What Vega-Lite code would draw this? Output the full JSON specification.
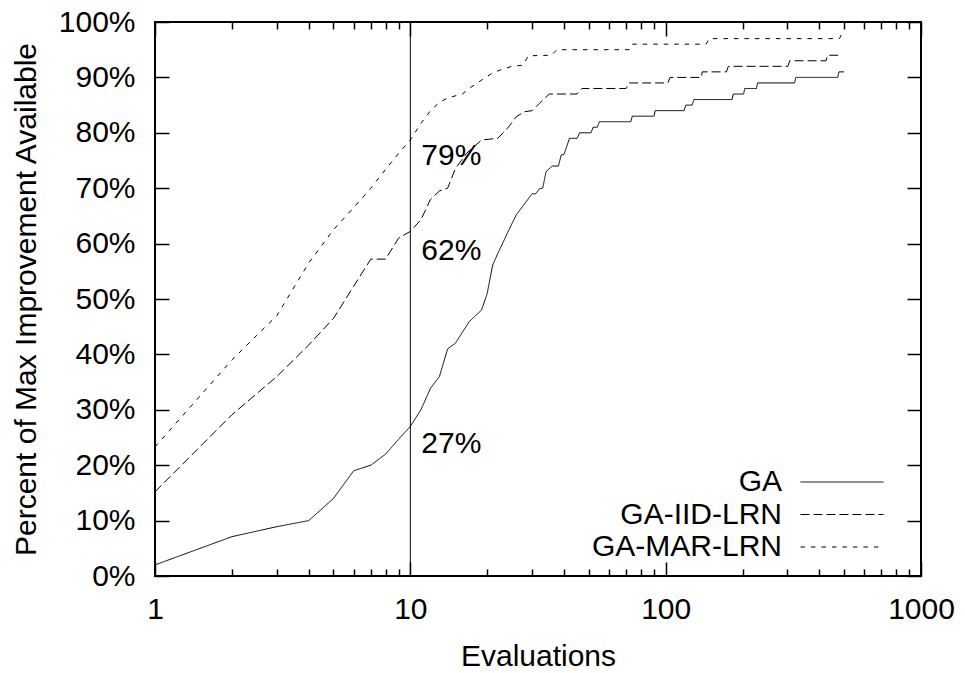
{
  "$schema": "https://vega.github.io/schema/vega-lite/v6.json",
  "autosize": {"type": "none"},
  "padding": {"left": 155, "top": 22, "right": 44, "bottom": 97},
  "width": 766,
  "height": 554,
  "background": "white",
  "config": {
    "view": {"stroke": "black", "strokeWidth": 2},
    "font": "Liberation Sans",
    "axis": {
      "domain": false,
      "grid": false,
      "labelFont": "Liberation Sans",
      "labelFontSize": 30,
      "labelColor": "black",
      "titleFont": "Liberation Sans",
      "titleFontSize": 30,
      "titleFontWeight": "normal",
      "titleColor": "black"
    },
    "legend": {
      "labelFont": "Liberation Sans",
      "labelFontSize": 30,
      "labelColor": "black"
    }
  },
  "resolve": {
    "scale": {"x": "shared", "y": "shared"},
    "axis": {"x": "independent", "y": "independent"}
  },
  "datasets": {
    "curves": [
      {"series": "GA", "x": 1, "y": 2},
      {"series": "GA", "x": 2, "y": 7.1},
      {"series": "GA", "x": 3, "y": 8.9},
      {"series": "GA", "x": 4, "y": 10},
      {"series": "GA", "x": 5, "y": 14},
      {"series": "GA", "x": 6, "y": 19},
      {"series": "GA", "x": 7, "y": 20},
      {"series": "GA", "x": 8, "y": 22},
      {"series": "GA", "x": 9, "y": 24.7},
      {"series": "GA", "x": 10, "y": 27},
      {"series": "GA", "x": 11, "y": 30},
      {"series": "GA", "x": 12, "y": 33.9},
      {"series": "GA", "x": 13, "y": 36},
      {"series": "GA", "x": 14, "y": 41},
      {"series": "GA", "x": 15, "y": 42},
      {"series": "GA", "x": 17, "y": 45.9},
      {"series": "GA", "x": 19, "y": 48},
      {"series": "GA", "x": 20, "y": 51},
      {"series": "GA", "x": 21, "y": 56.1},
      {"series": "GA", "x": 22, "y": 58.2},
      {"series": "GA", "x": 24, "y": 61.9},
      {"series": "GA", "x": 26, "y": 65.2},
      {"series": "GA", "x": 30, "y": 69},
      {"series": "GA", "x": 31, "y": 69},
      {"series": "GA", "x": 32, "y": 69.9},
      {"series": "GA", "x": 33, "y": 70},
      {"series": "GA", "x": 34, "y": 73},
      {"series": "GA", "x": 36, "y": 74},
      {"series": "GA", "x": 38, "y": 74},
      {"series": "GA", "x": 39, "y": 76},
      {"series": "GA", "x": 40, "y": 76.1},
      {"series": "GA", "x": 42, "y": 79},
      {"series": "GA", "x": 45, "y": 79},
      {"series": "GA", "x": 46, "y": 80},
      {"series": "GA", "x": 51, "y": 80},
      {"series": "GA", "x": 52, "y": 81},
      {"series": "GA", "x": 54, "y": 81},
      {"series": "GA", "x": 55, "y": 82},
      {"series": "GA", "x": 73, "y": 82},
      {"series": "GA", "x": 74, "y": 83},
      {"series": "GA", "x": 90, "y": 83},
      {"series": "GA", "x": 91, "y": 84},
      {"series": "GA", "x": 118, "y": 84},
      {"series": "GA", "x": 120, "y": 85},
      {"series": "GA", "x": 127, "y": 85},
      {"series": "GA", "x": 129, "y": 86},
      {"series": "GA", "x": 182, "y": 86},
      {"series": "GA", "x": 184, "y": 87},
      {"series": "GA", "x": 202, "y": 87},
      {"series": "GA", "x": 204, "y": 88},
      {"series": "GA", "x": 227, "y": 88},
      {"series": "GA", "x": 229, "y": 89},
      {"series": "GA", "x": 320, "y": 89},
      {"series": "GA", "x": 323, "y": 90},
      {"series": "GA", "x": 472, "y": 90},
      {"series": "GA", "x": 477, "y": 91},
      {"series": "GA", "x": 500, "y": 91},
      {"series": "GA-IID-LRN", "x": 1, "y": 15.2},
      {"series": "GA-IID-LRN", "x": 2, "y": 29.1},
      {"series": "GA-IID-LRN", "x": 3, "y": 36},
      {"series": "GA-IID-LRN", "x": 4, "y": 41.7},
      {"series": "GA-IID-LRN", "x": 5, "y": 46.5},
      {"series": "GA-IID-LRN", "x": 6, "y": 52.3},
      {"series": "GA-IID-LRN", "x": 7, "y": 57.2},
      {"series": "GA-IID-LRN", "x": 8, "y": 57.2},
      {"series": "GA-IID-LRN", "x": 9, "y": 61},
      {"series": "GA-IID-LRN", "x": 10, "y": 62.2},
      {"series": "GA-IID-LRN", "x": 11, "y": 64.3},
      {"series": "GA-IID-LRN", "x": 12, "y": 68},
      {"series": "GA-IID-LRN", "x": 13, "y": 69.5},
      {"series": "GA-IID-LRN", "x": 14, "y": 70},
      {"series": "GA-IID-LRN", "x": 15, "y": 73.5},
      {"series": "GA-IID-LRN", "x": 16.6, "y": 76.3},
      {"series": "GA-IID-LRN", "x": 19, "y": 78.7},
      {"series": "GA-IID-LRN", "x": 22, "y": 79},
      {"series": "GA-IID-LRN", "x": 24, "y": 80.8},
      {"series": "GA-IID-LRN", "x": 26, "y": 82.9},
      {"series": "GA-IID-LRN", "x": 28, "y": 83.8},
      {"series": "GA-IID-LRN", "x": 30, "y": 84},
      {"series": "GA-IID-LRN", "x": 32, "y": 85.3},
      {"series": "GA-IID-LRN", "x": 35, "y": 87},
      {"series": "GA-IID-LRN", "x": 45, "y": 87},
      {"series": "GA-IID-LRN", "x": 47, "y": 88},
      {"series": "GA-IID-LRN", "x": 70, "y": 88},
      {"series": "GA-IID-LRN", "x": 72, "y": 89},
      {"series": "GA-IID-LRN", "x": 102, "y": 89},
      {"series": "GA-IID-LRN", "x": 104, "y": 90},
      {"series": "GA-IID-LRN", "x": 138, "y": 90},
      {"series": "GA-IID-LRN", "x": 139, "y": 91},
      {"series": "GA-IID-LRN", "x": 173, "y": 91},
      {"series": "GA-IID-LRN", "x": 176, "y": 92},
      {"series": "GA-IID-LRN", "x": 301, "y": 92},
      {"series": "GA-IID-LRN", "x": 306, "y": 93},
      {"series": "GA-IID-LRN", "x": 425, "y": 93},
      {"series": "GA-IID-LRN", "x": 430, "y": 94},
      {"series": "GA-IID-LRN", "x": 490, "y": 94},
      {"series": "GA-MAR-LRN", "x": 1, "y": 23.3},
      {"series": "GA-MAR-LRN", "x": 2, "y": 39},
      {"series": "GA-MAR-LRN", "x": 3, "y": 47},
      {"series": "GA-MAR-LRN", "x": 4, "y": 56.5},
      {"series": "GA-MAR-LRN", "x": 5, "y": 62.5},
      {"series": "GA-MAR-LRN", "x": 6, "y": 66.5},
      {"series": "GA-MAR-LRN", "x": 7, "y": 70},
      {"series": "GA-MAR-LRN", "x": 8, "y": 73.4},
      {"series": "GA-MAR-LRN", "x": 9, "y": 76.3},
      {"series": "GA-MAR-LRN", "x": 10, "y": 78.7},
      {"series": "GA-MAR-LRN", "x": 11, "y": 81.7},
      {"series": "GA-MAR-LRN", "x": 12, "y": 84},
      {"series": "GA-MAR-LRN", "x": 13, "y": 85.5},
      {"series": "GA-MAR-LRN", "x": 14, "y": 86.3},
      {"series": "GA-MAR-LRN", "x": 16, "y": 87},
      {"series": "GA-MAR-LRN", "x": 17, "y": 88},
      {"series": "GA-MAR-LRN", "x": 19, "y": 89.5},
      {"series": "GA-MAR-LRN", "x": 21, "y": 90.8},
      {"series": "GA-MAR-LRN", "x": 23, "y": 91.5},
      {"series": "GA-MAR-LRN", "x": 25, "y": 92},
      {"series": "GA-MAR-LRN", "x": 27.6, "y": 92.2},
      {"series": "GA-MAR-LRN", "x": 29, "y": 93.9},
      {"series": "GA-MAR-LRN", "x": 35.7, "y": 94},
      {"series": "GA-MAR-LRN", "x": 37.5, "y": 95},
      {"series": "GA-MAR-LRN", "x": 72, "y": 95},
      {"series": "GA-MAR-LRN", "x": 74, "y": 96},
      {"series": "GA-MAR-LRN", "x": 144, "y": 96},
      {"series": "GA-MAR-LRN", "x": 148, "y": 97},
      {"series": "GA-MAR-LRN", "x": 479, "y": 97},
      {"series": "GA-MAR-LRN", "x": 492, "y": 98}
    ]
  },
  "layer": [
    {
      "data": {"name": "curves"},
      "transform": [{"filter": "datum.series == 'GA'"}],
      "mark": {"type": "line", "color": "black", "strokeWidth": 1},
      "encoding": {
        "x": {
          "field": "x",
          "type": "quantitative",
          "scale": {"type": "log", "domain": [1, 1000], "nice": false},
          "axis": {
            "orient": "bottom",
            "title": "Evaluations",
            "titlePadding": 17,
            "values": [1, 10, 100, 1000],
            "format": "d",
            "labelFlush": false,
            "ticks": false,
            "labelPadding": 18
          }
        },
        "y": {
          "field": "y",
          "type": "quantitative",
          "scale": {"domain": [0, 100], "nice": false},
          "axis": {
            "orient": "left",
            "title": "Percent of Max Improvement Available",
            "values": [0, 10, 20, 30, 40, 50, 60, 70, 80, 90, 100],
            "labelExpr": "datum.value + '%'",
            "ticks": false,
            "labelPadding": 20,
            "titlePadding": 17
          }
        },
        "strokeDash": {
          "field": "series",
          "type": "nominal",
          "scale": {
            "domain": ["GA", "GA-IID-LRN", "GA-MAR-LRN"],
            "range": [[1, 0], [9, 4], [4.5, 6]]
          },
          "legend": {
            "orient": "none",
            "legendX": 672,
            "legendY": 445,
            "padding": 0,
            "title": null,
            "symbolType": "M-5,0H5",
            "symbolSize": 276,
            "symbolStrokeWidth": 1,
            "symbolStrokeColor": "black",
            "labelAlign": "right",
            "labelOffset": -75,
            "labelLimit": 400,
            "rowPadding": 2.5
          }
        }
      }
    },
    {
      "data": {"name": "curves"},
      "transform": [{"filter": "datum.series == 'GA-IID-LRN'"}],
      "mark": {"type": "line", "color": "black", "strokeWidth": 1},
      "encoding": {
        "x": {
          "field": "x",
          "type": "quantitative",
          "axis": {
            "orient": "bottom",
            "title": null,
            "labels": false,
            "values": [1, 10, 100, 1000],
            "tickColor": "black",
            "tickWidth": 1.5,
            "tickSize": -14
          }
        },
        "y": {
          "field": "y",
          "type": "quantitative",
          "axis": {
            "orient": "left",
            "title": null,
            "labels": false,
            "values": [0, 10, 20, 30, 40, 50, 60, 70, 80, 90, 100],
            "tickColor": "black",
            "tickWidth": 1.5,
            "tickSize": -14
          }
        },
        "strokeDash": {"field": "series", "type": "nominal"}
      }
    },
    {
      "data": {"name": "curves"},
      "transform": [{"filter": "datum.series == 'GA-MAR-LRN'"}],
      "mark": {"type": "line", "color": "black", "strokeWidth": 1},
      "encoding": {
        "x": {
          "field": "x",
          "type": "quantitative",
          "axis": {
            "orient": "top",
            "title": null,
            "labels": false,
            "values": [1, 10, 100, 1000],
            "tickColor": "black",
            "tickWidth": 1.5,
            "tickSize": -14
          }
        },
        "y": {
          "field": "y",
          "type": "quantitative",
          "axis": {
            "orient": "right",
            "title": null,
            "labels": false,
            "values": [0, 10, 20, 30, 40, 50, 60, 70, 80, 90, 100],
            "tickColor": "black",
            "tickWidth": 1.5,
            "tickSize": -14
          }
        },
        "strokeDash": {"field": "series", "type": "nominal"}
      }
    },
    {
      "data": {"values": [{"x": 10}]},
      "mark": {"type": "rule", "color": "black", "strokeWidth": 1},
      "encoding": {
        "x": {
          "field": "x",
          "type": "quantitative",
          "axis": {
            "orient": "bottom",
            "title": null,
            "labels": false,
            "values": [2, 3, 4, 5, 6, 7, 8, 9, 20, 30, 40, 50, 60, 70, 80, 90, 200, 300, 400, 500, 600, 700, 800, 900],
            "tickColor": "black",
            "tickWidth": 1.5,
            "tickSize": -7
          }
        }
      }
    },
    {
      "data": {
        "values": [
          {"x": 10, "y": 79, "label": "79%"},
          {"x": 10, "y": 62, "label": "62%"},
          {"x": 10, "y": 27, "label": "27%"}
        ]
      },
      "mark": {"type": "text", "align": "left", "baseline": "middle", "dx": 11, "dy": 18, "fontSize": 30, "font": "Liberation Sans", "color": "black"},
      "encoding": {
        "x": {
          "field": "x",
          "type": "quantitative",
          "axis": {
            "orient": "top",
            "title": null,
            "labels": false,
            "values": [2, 3, 4, 5, 6, 7, 8, 9, 20, 30, 40, 50, 60, 70, 80, 90, 200, 300, 400, 500, 600, 700, 800, 900],
            "tickColor": "black",
            "tickWidth": 1.5,
            "tickSize": -7
          }
        },
        "y": {"field": "y", "type": "quantitative", "axis": null},
        "text": {"field": "label"}
      }
    }
  ]
}
